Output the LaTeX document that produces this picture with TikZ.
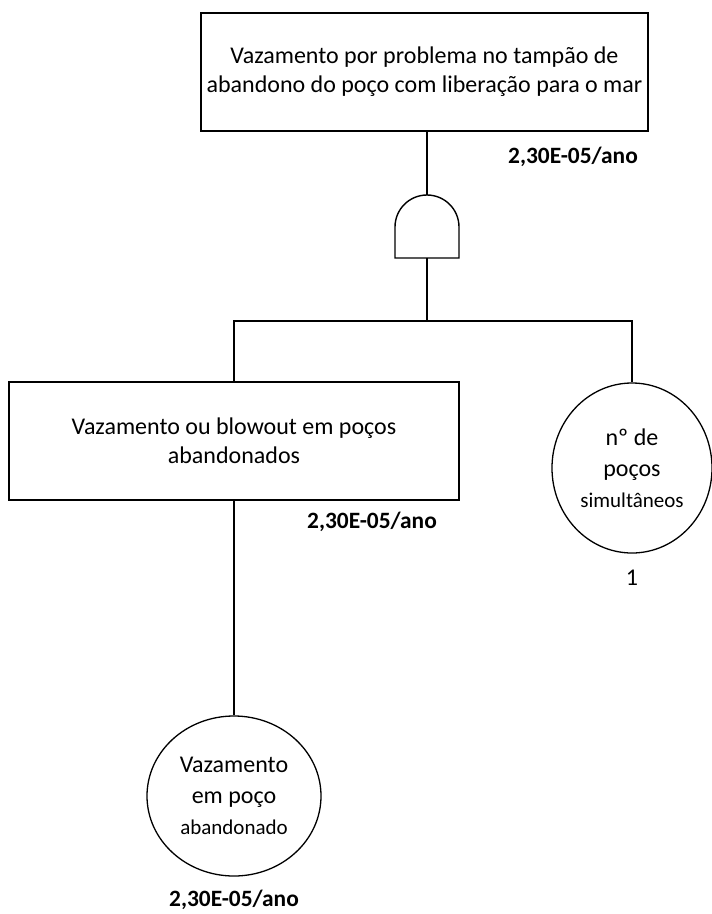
\documentclass[tikz,border=0pt]{standalone}
\usepackage{fontspec}
\setmainfont{Carlito}
\usetikzlibrary{shapes.geometric}
\tikzset{
  evbox/.style={draw, line width=1.6pt, align=center, inner sep=0pt, font=\fontsize{24}{29}\selectfont},
  evcirc/.style={draw, ellipse, line width=1.3pt, align=center, inner sep=0pt, font=\fontsize{24}{31}\selectfont},
  small/.style={font=\fontsize{21}{24}\selectfont},
  prob/.style={font=\bfseries\fontsize{23.4}{26}\selectfont, inner sep=0pt},
  conn/.style={line width=1.6pt}
}
\begin{document}
\begin{tikzpicture}[x=1pt,y=-1pt]
\useasboundingbox (0,0) rectangle (712,914);
\node[evbox, minimum width=447pt, minimum height=118pt] (top) at (424.5,72)
  {Vazamento por problema no tampão de\\abandono do poço com liberação para o mar};
\node[prob, anchor=east] (ptop) at (638,157) {2,30E-05/ano};
% AND gate
\coordinate (gtop) at (427,195);
\coordinate (gbot) at (427,258);
\draw[line width=1.4pt] (395,258) -- (395,227) arc[start angle=180, end angle=360, radius=32] -- (459,258) -- cycle;
\draw[conn] (gtop |- top.south) -- (gtop);
\coordinate (bar) at (427,321);
\draw[conn] (gbot) -- (bar);
\node[evbox, minimum width=450pt, minimum height=118pt] (mid) at (234,441)
  {Vazamento ou blowout em poços\\abandonados};
\node[prob] (pmid) at (372,522) {2,30E-05/ano};
\node[evcirc, minimum width=160pt, minimum height=170pt] (nw) at (632,468)
  {nº de\\poços\\{\fontsize{21}{24}\selectfont simultâneos}};
\node[font=\fontsize{24}{26}\selectfont, inner sep=0pt] (one) at (632,578) {1};
\draw[conn] (mid.north) |- (bar) -| (nw.north);
\node[evcirc, minimum width=174pt, minimum height=160pt] (bot) at (234,796)
  {Vazamento\\em poço\\{\fontsize{21}{24}\selectfont abandonado}};
\node[prob] (pbot) at (234,900) {2,30E-05/ano};
\draw[conn] (mid.south) -- (bot.north);
\end{tikzpicture}
\end{document}
